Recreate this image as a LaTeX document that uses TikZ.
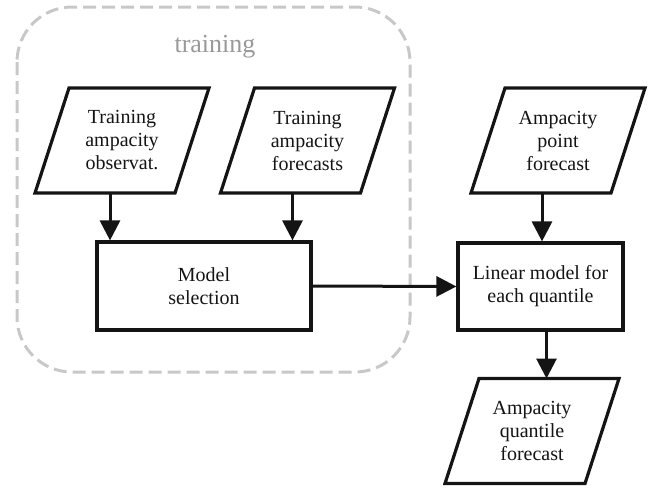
\documentclass[tikz,border=0pt]{standalone}
\usepackage{fontspec}
\setmainfont{Liberation Serif}
\usetikzlibrary{arrows.meta}
\definecolor{ink}{HTML}{141414}
\definecolor{dashgray}{HTML}{C8C8C8}
\definecolor{labelgray}{HTML}{999999}
\begin{document}
\begin{tikzpicture}[x=1pt,y=-1pt,
  txt/.style={align=center,font=\fontsize{20}{23}\selectfont,inner sep=0pt,text=ink},
  iobox/.style={txt,minimum width=174pt,minimum height=105pt,outer sep=0pt},
  procbox/.style={txt,draw=ink,line width=3.2pt},
  para/.style={draw=ink,line width=3.2pt,line join=miter},
  arr/.style={draw=ink,line width=3pt,-{Triangle[length=20pt,width=20pt]}},
  group/.style={draw=dashgray,line width=3pt,dash pattern=on 13pt off 6pt,rounded corners=55pt}]
\useasboundingbox (0,0) rectangle (653,488);

% training group
\draw[group] (17,7) rectangle (410,372);
\node[font=\fontsize{26}{30}\selectfont,text=labelgray,inner sep=0pt] (tlabel) at (215,47) {training};

% input parallelograms
\node[iobox] (obs) at (122,140.5) {Training\\ampacity\\observat.};
\node[iobox] (tfc) at (307.5,140.5) {Training\\ampacity\\forecasts};
\node[iobox] (pfc) at (558,140.5) {Ampacity\\point\\forecast};
\node[iobox] (qfc) at (532,431) {Ampacity\\quantile\\forecast};
\foreach \n in {obs,tfc,pfc,qfc}{
  \draw[para] (\n.south west) -- ([xshift=34pt]\n.north west) -- (\n.north east)
    -- ([xshift=-34pt]\n.south east) -- cycle;
}

% process boxes
\node[procbox,minimum width=214pt,minimum height=88pt] (sel) at (204,286) {Model\\selection};
\node[procbox,minimum width=165pt,minimum height=87pt] (lin) at (540.5,286.5) {Linear model for\\each quantile};

% connectors
\draw[arr] ([xshift=-12pt]obs.south) -- ([xshift=-12pt]obs.south |- sel.north);
\draw[arr] ([xshift=-15pt]tfc.south) -- ([xshift=-15pt]tfc.south |- sel.north);
\draw[arr] ([xshift=-16pt]pfc.south) -- ([xshift=-16pt]pfc.south |- lin.north);
\draw[arr] (sel.east) -- (lin.west);
\draw[arr] ([xshift=6pt]lin.south) -- ([xshift=6pt]lin.south |- qfc.north);
\end{tikzpicture}
\end{document}
